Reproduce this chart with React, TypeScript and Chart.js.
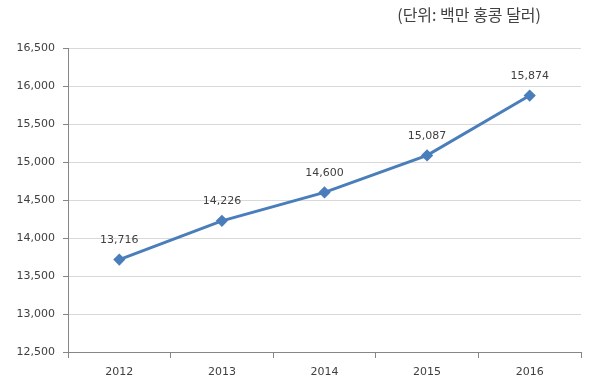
import React, { useEffect, useRef } from "react";
import { Chart, registerables } from "chart.js";

Chart.register(...registerables);

const categories = ["2012", "2013", "2014", "2015", "2016"];
const values = [13716, 14226, 14600, 15087, 15874];
const unitLabel = "(단위: 백만 홍콩 달러)";
const yMin = 12500;
const yMax = 16500;
const yStep = 500;

const FONT = "'DejaVu Sans', sans-serif";

const fmt = (v: number) => v.toLocaleString("en-US");

const labelsPlugin = {
  id: "pointLabels",
  afterDatasetsDraw(chart: any) {
    const ctx = chart.ctx;
    const meta = chart.getDatasetMeta(0);
    ctx.save();
    ctx.font = `11px ${FONT}`;
    ctx.fillStyle = "#404040";
    ctx.textAlign = "center";
    ctx.textBaseline = "bottom";
    meta.data.forEach((pt: any, i: number) => {
      ctx.fillText(fmt(values[i]), pt.x, pt.y - 14);
    });
    ctx.restore();
  },
};

const unitPlugin = {
  id: "unitTitle",
  afterDraw(chart: any) {
    const ctx = chart.ctx;
    ctx.save();
    ctx.font = `16px 'Noto Sans CJK KR', sans-serif`;
    ctx.fillStyle = "#404040";
    ctx.textAlign = "right";
    ctx.textBaseline = "middle";
    ctx.fillText(unitLabel, 541, 15);
    ctx.restore();
  },
};

export default function App() {
  const ref = useRef<HTMLCanvasElement | null>(null);
  useEffect(() => {
    if (!ref.current) return;
    const chart = new Chart(ref.current, {
      type: "line",
      data: {
        labels: categories,
        datasets: [
          {
            data: values,
            borderColor: "#4a7ebb",
            backgroundColor: "#4a7ebb",
            borderWidth: 3,
            pointStyle: "rectRot",
            pointRadius: 4,
            pointHoverRadius: 4,
            tension: 0,
          },
        ],
      },
      options: {
        responsive: false,
        animation: false,
        layout: { padding: { top: 48, right: 19, left: 0, bottom: 0 } },
        plugins: { legend: { display: false }, tooltip: { enabled: false } },
        scales: {
          x: {
            offset: true,
            grid: {
              offset: true,
              drawOnChartArea: false,
              drawTicks: true,
              tickLength: 6,
              color: "#868686",
            },
            border: { color: "#868686", width: 1 },
            ticks: {
              color: "#404040",
              font: { family: FONT, size: 11 },
              padding: 8,
            },
            afterFit: (s: any) => {
              s.height = 39;
            },
          },
          y: {
            min: yMin,
            max: yMax,
            grid: {
              color: "#d9d9d9",
              tickColor: "#868686",
              tickLength: 5,
            },
            border: { color: "#868686", width: 1 },
            ticks: {
              stepSize: yStep,
              color: "#404040",
              font: { family: FONT, size: 11 },
              padding: 8,
              callback: (v: any) => fmt(Number(v)),
            },
            afterFit: (s: any) => {
              s.width = 68;
            },
          },
        },
      },
      plugins: [labelsPlugin, unitPlugin],
    });
    return () => chart.destroy();
  }, []);
  return (
    <div style={{ position: "fixed", left: 0, top: 0, width: 600, height: 391, background: "#fff" }}>
      <canvas ref={ref} width={600} height={391} />
    </div>
  );
}
